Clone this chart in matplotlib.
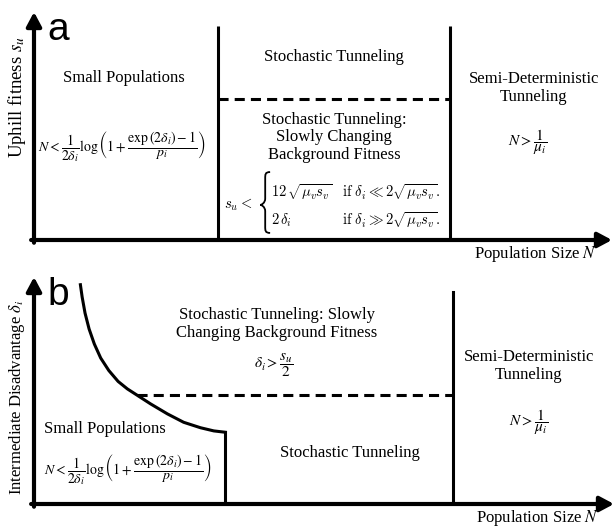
import numpy as np
import matplotlib.pyplot as plt
from matplotlib.path import Path
from matplotlib.patches import PathPatch

plt.rcParams['font.family'] = ['Liberation Serif', 'DejaVu Serif']
plt.rcParams['mathtext.fontset'] = 'stix'

# both panels use arbitrary units, axes span 0..10 in x and y
# panel a: regime boundaries in (N, s_u)
a_bound_x = [3.18, 7.20]      # small pop. | stochastic | semi-deterministic
a_bound_top = 9.39
a_dash_y = 6.18               # stochastic tunneling vs slowly changing background

# panel b: regime boundaries in (N, delta_i)
b_curve_x = [0.80, 0.83, 0.88, 0.95, 1.04, 1.15, 1.29, 1.45, 1.61, 1.78,
             2.01, 2.30, 2.58, 2.87, 3.10, 3.30]
b_curve_y = [9.66, 9.12, 8.41, 7.71, 7.05, 6.43, 5.88, 5.40, 5.07, 4.79,
             4.41, 3.97, 3.60, 3.36, 3.22, 3.16]
b_dash_y = 4.79
b_bound_x = 7.23
b_bound_top = 9.34

formula_small = r'$N<\dfrac{1}{2\delta_i}\log\left(1+\dfrac{\exp\left(2\delta_i\right)-1}{p_i}\right)$'
formula_semi = r'$N>\dfrac{1}{\mu_i}$'

fig = plt.figure(figsize=(6.16, 5.27), dpi=100)
ax_a = fig.add_axes([34 / 616, (527 - 240) / 527, 578 / 616, 228 / 527])
ax_b = fig.add_axes([34 / 616, (527 - 504) / 527, 580 / 616, 227 / 527])

axis_lw = 3.0
line_lw = 2.2
dash = (0, (3.3, 2.0))


def draw_axes(ax, xlabel, ylabel, letter):
    ax.set_xlim(0, 10)
    ax.set_ylim(0, 10)
    ax.axis('off')
    arrow = dict(arrowstyle='-|>,head_length=0.6,head_width=0.32', lw=axis_lw,
                 color='k', shrinkA=0, shrinkB=0, mutation_scale=14)
    ax.annotate('', xy=(10, 0), xytext=(-0.05, 0), arrowprops=arrow, annotation_clip=False)
    ax.annotate('', xy=(0, 10), xytext=(0, -0.12), arrowprops=arrow, annotation_clip=False)
    ax.text(9.74, -0.6, xlabel, ha='right', va='center', fontsize=12)
    ax.text(-0.30, ylabel[1], ylabel[0], rotation=90, ha='center', va='center',
            fontsize=ylabel[2])
    ax.text(0.24, 8.75, letter, family='Liberation Sans', fontsize=28, ha='left', va='baseline')


def left_brace(ax, x, y0, y1, ytip, w):
    # curly brace opening to the right, tip at (x - w/2, ytip)
    xm, xr, xt = x, x + w / 2, x - w / 2
    k = 0.28
    verts = [(xr, y1),
             (xm, y1), (xm, y1 - 0.1), (xm, y1 - k),
             (xm, ytip + k),
             (xm, ytip + 0.08), (xt + 0.02, ytip), (xt, ytip),
             (xt + 0.02, ytip), (xm, ytip - 0.08), (xm, ytip - k),
             (xm, y0 + k),
             (xm, y0 + 0.1), (xm, y0), (xr, y0)]
    codes = [Path.MOVETO] + [Path.CURVE4] * 3 + [Path.LINETO] + [Path.CURVE4] * 6 + \
            [Path.LINETO] + [Path.CURVE4] * 3
    ax.add_patch(PathPatch(Path(verts, codes), fill=False, lw=1.3, color='k'))


# ---- panel a ----
draw_axes(ax_a, 'Population Size $N$', ('Uphill fitness $s_u$', 6.27, 13.5), 'a')
for x in a_bound_x:
    ax_a.plot([x, x], [0, a_bound_top], color='k', lw=line_lw, solid_capstyle='butt')
ax_a.plot(a_bound_x, [a_dash_y, a_dash_y], color='k', lw=line_lw, ls=dash)

ax_a.text(1.56, 7.1, 'Small Populations', ha='center', va='center', fontsize=12)
ax_a.text(1.52, 4.08, formula_small, ha='center', va='center', fontsize=10)
ax_a.text(5.19, 8.03, 'Stochastic Tunneling', ha='center', va='center', fontsize=12)
ax_a.text(5.19, 4.50, 'Stochastic Tunneling:\nSlowly Changing\nBackground Fitness',
          ha='center', va='center', fontsize=12, linespacing=1.1)
ax_a.text(3.28, 1.54, r'$s_u <$', math_fontfamily='cm', fontsize=10.5, va='center')
left_brace(ax_a, 4.0, 0.31, 2.98, 1.54, 0.17)
ax_a.text(4.10, 2.11, r'$12\,\sqrt{\mu_v s_v}$', math_fontfamily='cm', fontsize=10.5, va='center')
ax_a.text(5.33, 2.11, r'$\mathrm{if}\ \delta_i \ll 2\sqrt{\mu_v s_v}.$', math_fontfamily='cm',
          fontsize=10.5, va='center')
ax_a.text(4.10, 0.88, r'$2\,\delta_i$', math_fontfamily='cm', fontsize=10.5, va='center')
ax_a.text(5.33, 0.88, r'$\mathrm{if}\ \delta_i \gg 2\sqrt{\mu_v s_v}.$', math_fontfamily='cm',
          fontsize=10.5, va='center')
ax_a.text(8.65, 6.67, 'Semi-Deterministic\nTunneling', ha='center', va='center',
          fontsize=12, linespacing=1.1)
ax_a.text(8.53, 4.30, formula_semi, ha='center', va='center', fontsize=11)

# ---- panel b ----
draw_axes(ax_b, 'Population Size $N$', (r'Intermediate Disadvantage $\delta_i$', 4.71, 12), 'b')
ax_b.plot(b_curve_x, b_curve_y, color='k', lw=line_lw, solid_joinstyle='round')
ax_b.plot([b_curve_x[-1], b_curve_x[-1]], [0, b_curve_y[-1]], color='k', lw=line_lw)
ax_b.plot([b_curve_x[9], b_bound_x], [b_dash_y, b_dash_y], color='k', lw=line_lw, ls=dash)
ax_b.plot([b_bound_x, b_bound_x], [0, b_bound_top], color='k', lw=line_lw)

ax_b.text(4.19, 7.93, 'Stochastic Tunneling: Slowly\nChanging Background Fitness',
          ha='center', va='center', fontsize=12, linespacing=1.1)
ax_b.text(4.13, 6.12, r'$\delta_i>\dfrac{s_u}{2}$', ha='center', va='center', fontsize=11)
ax_b.text(8.53, 6.08, 'Semi-Deterministic\nTunneling', ha='center', va='center',
          fontsize=12, linespacing=1.1)
ax_b.text(8.53, 3.61, formula_semi, ha='center', va='center', fontsize=11)
ax_b.text(5.45, 2.25, 'Stochastic Tunneling', ha='center', va='center', fontsize=12)
ax_b.text(1.23, 3.30, 'Small Populations', ha='center', va='center', fontsize=12)
ax_b.text(1.61, 1.50, formula_small, ha='center', va='center', fontsize=10)

fig.savefig('out.png', dpi=100)
